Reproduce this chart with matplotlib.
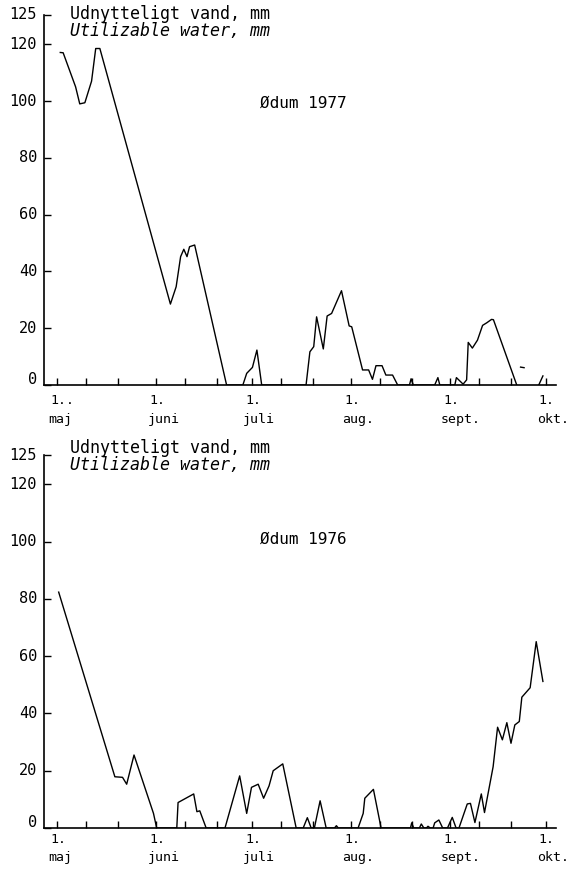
import matplotlib

matplotlib.use("Agg")
import matplotlib.pyplot as plt
import numpy as np

# days counted from 1 May; soil water in mm
DAYS_1977 = [0.9, 1.8, 5.7, 7.0, 8.6, 10.7, 12.0, 13.3, 35.4, 37.2, 38.6, 39.6, 40.6, 41.4, 43.0,
             53.0, 58.1, 59.3, 61.1, 62.5, 64.0, 77.9, 79.1, 80.3, 81.2, 83.3, 84.5, 85.9, 89.0,
             91.4, 92.2, 95.6, 97.5, 98.7, 99.8, 101.7, 102.9, 105.0, 106.6, 110.3, 110.8, 111.5,
             118.2, 119.2, 119.8, 124.5, 125.0, 127.1, 128.2, 128.7, 130.0, 131.6, 133.2, 134.5,
             136.0, 136.6, 143.9, np.nan, 145.1, 146.2, np.nan, 150.8, 152.1]
WATER_1977 = [117.1, 117.0, 105.0, 99.0, 99.4, 107.0, 118.5, 118.5, 28.5, 34.6, 45.2, 47.8, 45.2, 48.7, 49.3,
              0, 0, 4.1, 6.2, 12.3, 0, 0, 11.7, 13.5, 24.0, 12.7, 24.3, 25.2, 33.2,
              20.8, 20.5, 5.3, 5.3, 2.0, 6.8, 6.8, 3.5, 3.5, 0, 0, 2.2, 0,
              0, 2.6, 0, 0, 2.6, 0.3, 1.8, 15.0, 13.0, 15.8, 21.0, 21.9,
              23.1, 23.0, 0, np.nan, 6.3, 6.1, np.nan, 0, 3.2]

DAYS_1976 = [0.4, 18.0, 20.4, 21.7, 24.0, 30.1, 31.1, 37.4, 37.8, 42.7, 43.7, 44.6, 46.6, 52.5,
             57.1, 59.3, 60.8, 62.9, 64.6, 66.3, 67.6, 70.6, 74.8, 77.0, 78.3, 79.5, 80.5, 82.3,
             84.2, 86.8, 87.4, 88.0, 94.2, 95.8, 96.3, 99.0, 101.4, 110.6, 111.0, 111.6, 113.4,
             114.0, 114.8, 115.6, 116.1, 116.8, 117.7, 118.2, 119.5, 120.7, 122.2, 123.7, 124.9,
             125.8, 128.4, 129.4, 130.8, 132.8, 133.8, 136.5, 137.9, 139.4, 140.8, 142.1, 143.3,
             144.7, 145.5, 148.1, 150.0, 152.1]
WATER_1976 = [82.4, 17.9, 17.7, 15.3, 25.5, 5.1, 0, 0, 8.9, 11.9, 5.7, 6.0, 0, 0,
              18.2, 5.1, 14.2, 15.3, 10.4, 14.7, 20.0, 22.4, 0, 0, 3.6, 0, 0, 9.5,
              0, 0, 0.8, 0, 0, 5.1, 10.4, 13.5, 0, 0, 1.8, 0, 0,
              1.4, 0, 0, 0.6, 0, 0, 1.8, 2.8, 0, 0, 3.7, 0,
              0, 8.4, 8.6, 1.9, 11.9, 5.4, 21.4, 35.2, 30.8, 36.8, 29.6, 36.0,
              37.2, 45.7, 49.0, 65.1, 51.2]

MONTH_STARTS = [0, 31, 61, 92, 123, 153]
MONTH_NAMES = ["maj", "juni", "juli", "aug.", "sept.", "okt."]
DECADE_DAYS = [9, 19, 40, 50, 70, 80, 101, 111, 132, 142]
Y_TICKS = [0, 20, 40, 60, 80, 100, 120]
Y_TOP = 130.3

MONO = "DejaVu Sans Mono"
W, H = 570, 872


def label(ax, text, xy, coords, offset, **kw):
    ax.annotate(text, xy=xy, xycoords=coords, xytext=offset, textcoords="offset pixels",
                fontfamily=MONO, annotation_clip=False, **kw)


def draw_panel(fig, rect, days, water, station, first_label, day_dy, month_dy, ylabel_y, station_y):
    ax = fig.add_axes(rect)
    ax.plot(days, water, color="black", linewidth=1.0)
    ax.set_xlim(-4.2, 156.2)
    ax.set_ylim(0, Y_TOP)
    for side in ("top", "right"):
        ax.spines[side].set_visible(False)
    for side in ("left", "bottom"):
        ax.spines[side].set_linewidth(1.2)

    ax.set_xticks(MONTH_STARTS)
    ax.set_xticks(DECADE_DAYS, minor=True)
    ax.set_yticks(Y_TICKS + [Y_TOP])
    ax.set_xticklabels([])
    ax.set_yticklabels([])
    ax.tick_params(axis="both", which="both", direction="in", length=5, width=1.0, colors="black")

    # month labels under each "1." tick
    for i, (day, name) in enumerate(zip(MONTH_STARTS, MONTH_NAMES)):
        first = first_label if i == 0 else "1."
        label(ax, first, (day, 0), ("data", "axes fraction"), (-7, -day_dy),
              fontsize=9.5, ha="left", va="center")
        label(ax, name, (day, 0), ("data", "axes fraction"), (-9, -month_dy),
              fontsize=9.5, ha="left", va="center")

    ytexts = [str(v) for v in Y_TICKS] + ["125"]
    for v, t in zip(Y_TICKS + [Y_TOP], ytexts):
        dy = 6 if v == 0 else 0
        label(ax, t, (0, v), ("axes fraction", "data"), (-7, dy),
              fontsize=11, ha="right", va="center")

    fig.text(70 / W, 1 - ylabel_y / H, "Udnytteligt vand, mm", fontfamily=MONO,
             fontsize=12, va="center", ha="left")
    fig.text(70 / W, 1 - (ylabel_y + 17) / H, "Utilizable water, mm", fontfamily=MONO,
             fontstyle="italic", fontsize=12, va="center", ha="left")
    fig.text(303 / W, 1 - station_y / H, station, fontfamily=MONO, fontsize=11.5,
             va="center", ha="center")
    return ax


def main() -> None:
    fig = plt.figure(figsize=(W / 100, H / 100), dpi=100)
    draw_panel(fig, [44 / W, (H - 385) / H, 512 / W, 370 / H],
               DAYS_1977, WATER_1977, "Ødum 1977", "1..", 15, 34, 14, 103)
    draw_panel(fig, [44 / W, (H - 828) / H, 512 / W, 373 / H],
               DAYS_1976, WATER_1976, "Ødum 1976", "1.", 11, 29, 448, 539)
    fig.savefig("out.png", dpi=100)
    plt.close(fig)


if __name__ == "__main__":
    main()
